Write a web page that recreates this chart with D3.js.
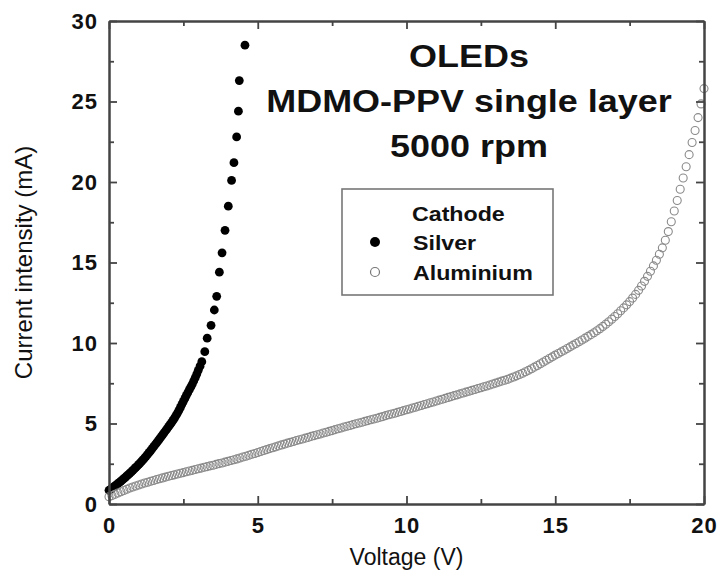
<!DOCTYPE html>
<html><head><meta charset="utf-8">
<script src="https://cdn.jsdelivr.net/npm/d3@7"></script>
<style>
html,body{margin:0;padding:0;background:#fff;}
svg{display:block;}
text{font-family:"Liberation Sans",Arial,sans-serif;fill:#111;}
</style></head>
<body>
<svg id="chart" width="717" height="573"></svg>
<script>
// ---- data ----
const titleLines = ["OLEDs", "MDMO-PPV single layer", "5000 rpm"];
const legendTitle = "Cathode";
const seriesNames = ["Silver", "Aluminium"];
const xTicks = [0, 5, 10, 15, 20];
const xMinorTicks = [2.5, 7.5, 12.5, 17.5];
const yTicks = [0, 5, 10, 15, 20, 25, 30];
const yMinorTicks = [2.5, 7.5, 12.5, 17.5, 22.5, 27.5];
const xLabel = "Voltage (V)";
const yLabel = "Current intensity (mA)";

const silverV = [0.00,0.05,0.10,0.15,0.20,0.25,0.30,0.35,0.40,0.45,
  0.50,0.55,0.60,0.65,0.70,0.75,0.80,0.85,0.90,0.95,
  1.00,1.05,1.10,1.15,1.20,1.25,1.30,1.35,1.40,1.45,
  1.50,1.55,1.60,1.65,1.70,1.75,1.80,1.85,1.90,1.95,
  2.00,2.05,2.10,2.15,2.20,2.25,2.30,2.35,2.40,2.45,
  2.50,2.55,2.60,2.65,2.70,2.75,2.80,2.85,2.90,2.95,3.00,3.06,
  3.12,3.22,3.30,3.43,3.54,3.62,3.71,3.80,3.90,4.01,4.12,4.20,4.29,4.35,4.38,4.57];
const silverI = [0.85,0.91,0.98,1.05,1.12,1.19,1.27,1.34,1.42,1.50,
  1.58,1.66,1.75,1.83,1.92,2.00,2.09,2.18,2.27,2.36,
  2.46,2.56,2.66,2.76,2.87,2.98,3.09,3.20,3.32,3.44,
  3.56,3.68,3.80,3.92,4.05,4.17,4.30,4.42,4.55,4.67,
  4.80,4.93,5.06,5.19,5.33,5.49,5.65,5.82,6.00,6.19,
  6.38,6.56,6.75,6.92,7.10,7.27,7.45,7.65,7.85,8.07,8.30,8.56,
  8.84,9.46,10.3,11.1,12.05,12.9,14.4,15.6,17.0,18.5,20.1,21.2,22.8,24.4,26.3,28.5];

const aluV = [0.0,0.1,0.2,0.3,0.4,0.5,0.6,0.7,0.8,0.9,
  1.0,1.1,1.2,1.3,1.4,1.5,1.6,1.7,1.8,1.9,
  2.0,2.1,2.2,2.3,2.4,2.5,2.6,2.7,2.8,2.9,
  3.0,3.1,3.2,3.3,3.4,3.5,3.6,3.7,3.8,3.9,
  4.0,4.1,4.2,4.3,4.4,4.5,4.6,4.7,4.8,4.9,
  5.0,5.1,5.2,5.3,5.4,5.5,5.6,5.7,5.8,5.9,
  6.0,6.1,6.2,6.3,6.4,6.5,6.6,6.7,6.8,6.9,
  7.0,7.1,7.2,7.3,7.4,7.5,7.6,7.7,7.8,7.9,
  8.0,8.1,8.2,8.3,8.4,8.5,8.6,8.7,8.8,8.9,
  9.0,9.1,9.2,9.3,9.4,9.5,9.6,9.7,9.8,9.9,
  10.0,10.1,10.2,10.3,10.4,10.5,10.6,10.7,10.8,10.9,
  11.0,11.1,11.2,11.3,11.4,11.5,11.6,11.7,11.8,11.9,
  12.0,12.1,12.2,12.3,12.4,12.5,12.6,12.7,12.8,12.9,
  13.0,13.1,13.2,13.3,13.4,13.5,13.6,13.7,13.8,13.9,
  14.0,14.1,14.2,14.3,14.4,14.5,14.6,14.7,14.8,14.9,
  15.0,15.1,15.2,15.3,15.4,15.5,15.6,15.7,15.8,15.9,
  16.0,16.1,16.2,16.3,16.4,16.5,16.6,16.7,16.8,16.9,
  17.0,17.1,17.2,17.3,17.4,17.5,17.6,17.7,17.8,17.9,
  18.0,18.1,18.2,18.3,18.4,18.5,18.6,18.7,18.8,18.9,
  19.0,19.1,19.2,19.3,19.4,19.5,19.6,19.7,19.8,19.9,
  20.0];
const aluI = [0.45,0.52,0.60,0.68,0.76,0.84,0.92,0.99,1.06,1.12,
  1.18,1.24,1.30,1.35,1.41,1.46,1.52,1.57,1.62,1.67,
  1.72,1.77,1.81,1.86,1.91,1.95,2.00,2.05,2.09,2.14,
  2.19,2.23,2.28,2.32,2.37,2.41,2.46,2.51,2.55,2.60,
  2.65,2.70,2.75,2.80,2.86,2.92,2.97,3.03,3.09,3.14,
  3.20,3.26,3.32,3.38,3.44,3.49,3.55,3.61,3.67,3.72,
  3.78,3.83,3.88,3.94,3.99,4.04,4.09,4.14,4.20,4.25,
  4.30,4.35,4.41,4.46,4.51,4.56,4.62,4.67,4.72,4.78,
  4.83,4.88,4.93,4.98,5.03,5.08,5.13,5.18,5.23,5.28,
  5.33,5.38,5.43,5.49,5.54,5.59,5.64,5.69,5.75,5.80,
  5.85,5.90,5.96,6.01,6.07,6.12,6.18,6.23,6.29,6.34,
  6.40,6.45,6.51,6.56,6.62,6.67,6.73,6.78,6.84,6.89,
  6.95,7.00,7.06,7.11,7.17,7.22,7.28,7.33,7.39,7.45,
  7.51,7.57,7.63,7.69,7.75,7.82,7.89,7.96,8.04,8.12,
  8.21,8.30,8.40,8.50,8.60,8.71,8.82,8.93,9.04,9.14,
  9.25,9.35,9.45,9.55,9.66,9.76,9.87,9.97,10.08,10.19,
  10.30,10.41,10.52,10.64,10.76,10.89,11.03,11.17,11.32,11.48,
  11.65,11.82,12.00,12.18,12.37,12.57,12.79,13.02,13.27,13.54,
  13.83,14.14,14.46,14.79,15.14,15.51,15.91,16.38,16.92,17.53,
  18.20,18.85,19.55,20.25,20.95,21.70,22.45,23.20,24.00,24.85,
  25.80];

// ---- drawing ----
const svg = d3.select("#chart");
const x = d3.scaleLinear().domain([0, 20]).range([109, 704]);
const y = d3.scaleLinear().domain([0, 30]).range([504, 21]);
const axisColor = "#444";
const stretch = 1.16;

const silver = silverV.map((v, i) => [v, silverI[i]]);
const alu = aluV.map((v, i) => [v, aluI[i]]);

// data
svg.append("g").selectAll("circle").data(silver).join("circle")
  .attr("cx", d => x(d[0])).attr("cy", d => y(d[1])).attr("r", 4.4)
  .attr("fill", "#000");
svg.append("g").selectAll("circle").data(alu).join("circle")
  .attr("cx", d => x(d[0])).attr("cy", d => y(d[1])).attr("r", 4)
  .attr("fill", "none").attr("stroke", "#8a8a8a").attr("stroke-width", 1.1);

function styleAxis(g) {
  g.selectAll(".domain").attr("stroke", axisColor).attr("stroke-width", 2);
  g.selectAll(".tick line").attr("stroke", axisColor).attr("stroke-width", 1.8);
  g.selectAll(".tick text").attr("font-family", "'Liberation Sans',Arial,sans-serif")
    .attr("font-weight", "bold").attr("font-size", 22).attr("fill", "#111")
    .style("letter-spacing", "1px");
}

// bottom
svg.append("g").attr("transform", "translate(0,504)")
  .call(d3.axisBottom(x).tickValues(xMinorTicks).tickSize(-5).tickSizeOuter(0).tickFormat(""))
  .call(styleAxis);
svg.append("g").attr("transform", "translate(0,504)")
  .call(d3.axisBottom(x).tickValues(xTicks).tickSize(-8).tickSizeOuter(0).tickPadding(13).tickFormat(d3.format("d")))
  .call(styleAxis);
// top
svg.append("g").attr("transform", "translate(0,21)")
  .call(d3.axisTop(x).tickValues(xMinorTicks).tickSize(-5).tickSizeOuter(0).tickFormat(""))
  .call(styleAxis);
svg.append("g").attr("transform", "translate(0,21)")
  .call(d3.axisTop(x).tickValues(xTicks).tickSize(-8).tickSizeOuter(0).tickFormat(""))
  .call(styleAxis);
// left
svg.append("g").attr("transform", "translate(109,0)")
  .call(d3.axisLeft(y).tickValues(yMinorTicks).tickSize(-5).tickSizeOuter(0).tickFormat(""))
  .call(styleAxis);
svg.append("g").attr("transform", "translate(109,0)")
  .call(d3.axisLeft(y).tickValues(yTicks).tickSize(-8).tickSizeOuter(0).tickPadding(11).tickFormat(d3.format("d")))
  .call(styleAxis);
// right
svg.append("g").attr("transform", "translate(704,0)")
  .call(d3.axisRight(y).tickValues(yMinorTicks).tickSize(-5).tickSizeOuter(0).tickFormat(""))
  .call(styleAxis);
svg.append("g").attr("transform", "translate(704,0)")
  .call(d3.axisRight(y).tickValues(yTicks).tickSize(-8).tickSizeOuter(0).tickFormat(""))
  .call(styleAxis);

// axis titles
svg.append("text").attr("x", (x(0) + x(20)) / 2).attr("y", 565)
  .attr("text-anchor", "middle").attr("font-size", 23).text(xLabel);
svg.append("text").attr("transform", `translate(32,${(y(0) + y(30)) / 2}) rotate(-90)`)
  .attr("text-anchor", "middle").attr("font-size", 24).text(yLabel);

// title block (glyphs are horizontally stretched in the original)
const titleX = 469;
const titleY = [67, 112, 157];
titleLines.forEach((t, i) => {
  svg.append("text").attr("transform", `translate(${titleX},${titleY[i]}) scale(${stretch},1)`)
    .attr("text-anchor", "middle").attr("font-weight", "bold").attr("font-size", 31).text(t);
});

// legend
svg.append("rect").attr("x", 342).attr("y", 189).attr("width", 211).attr("height", 106)
  .attr("fill", "#fff").attr("stroke", "#777").attr("stroke-width", 1.6);
svg.append("text").attr("transform", `translate(412,221) scale(${stretch},1)`)
  .attr("font-weight", "bold").attr("font-size", 20).text(legendTitle);
const legY = [242, 272];
svg.append("circle").attr("cx", 375).attr("cy", legY[0]).attr("r", 5).attr("fill", "#000");
svg.append("circle").attr("cx", 375).attr("cy", legY[1]).attr("r", 4.5)
  .attr("fill", "none").attr("stroke", "#777").attr("stroke-width", 1.2);
seriesNames.forEach((s, i) => {
  svg.append("text").attr("transform", `translate(413,${legY[i] + 8}) scale(${stretch},1)`)
    .attr("font-weight", "bold").attr("font-size", 20).text(s);
});
</script>
</body></html>
